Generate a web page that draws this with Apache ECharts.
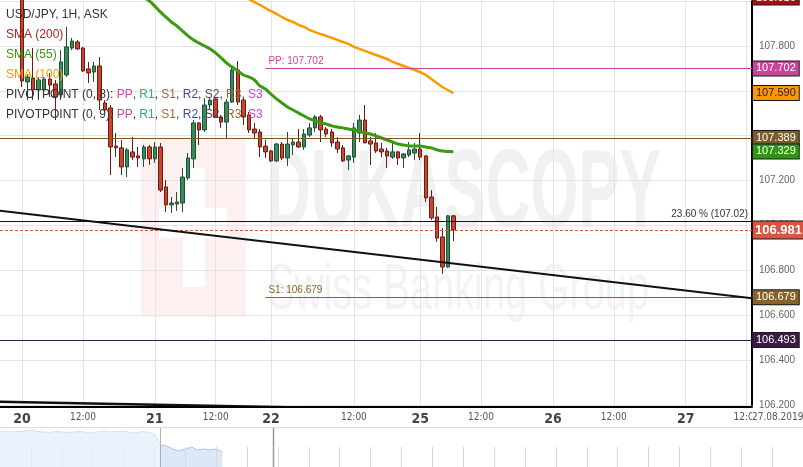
<!DOCTYPE html>
<html><head><meta charset="utf-8">
<script src="https://cdn.jsdelivr.net/npm/echarts@6/dist/echarts.min.js"></script>
<style>html,body{margin:0;padding:0;background:#fff}#c{width:803px;height:467px}</style>
</head><body><div id="c"></div>
<script>
// ---------- DATA ----------
const SLOT_COUNT = 137;          // hourly slots on the category axis
const FIRST_CANDLE_SLOT = 4;     // slot of first visible candle
const opens = [108.050,107.640,107.657,107.604,107.604,107.653,107.631,107.582,107.671,107.791,
  107.818,107.791,107.698,107.684,107.711,107.546,107.524,107.354,107.346,107.261,
  107.328,107.310,107.297,107.350,107.297,107.350,107.172,107.092,107.096,107.100,
  107.212,107.297,107.457,107.426,107.537,107.564,107.484,107.461,107.550,107.693,
  107.559,107.493,107.430,107.417,107.354,107.332,107.288,107.363,107.301,107.359,
  107.372,107.350,107.403,107.435,107.484,107.430,107.417,107.372,107.346,107.292,
  107.305,107.412,107.470,107.377,107.368,107.341,107.332,107.305,107.328,107.301,
  107.314,107.323,107.341,107.310,107.127,107.038,106.949,106.815,107.043];
const closes = [107.644,107.662,107.604,107.649,107.653,107.626,107.573,107.729,107.796,107.822,
  107.787,107.689,107.680,107.711,107.559,107.515,107.350,107.346,107.261,107.337,
  107.305,107.301,107.350,107.297,107.350,107.158,107.092,107.100,107.105,107.216,
  107.301,107.457,107.426,107.537,107.559,107.484,107.461,107.550,107.693,107.550,
  107.484,107.426,107.412,107.350,107.328,107.288,107.363,107.301,107.363,107.372,
  107.350,107.408,107.435,107.484,107.426,107.408,107.368,107.341,107.288,107.310,
  107.435,107.470,107.368,107.363,107.332,107.328,107.310,107.328,107.301,107.319,
  107.337,107.341,107.305,107.123,107.034,106.944,106.815,107.043,106.981];
const highs = [108.072,107.671,107.791,107.662,107.662,107.680,107.649,107.782,107.885,107.836,
  107.827,107.796,107.729,107.729,107.751,107.559,107.537,107.412,107.381,107.346,
  107.395,107.350,107.359,107.359,107.372,107.368,107.203,107.127,107.149,107.256,
  107.323,107.470,107.461,107.568,107.573,107.573,107.493,107.564,107.706,107.733,
  107.568,107.506,107.457,107.430,107.381,107.337,107.368,107.372,107.417,107.390,
  107.430,107.430,107.457,107.493,107.493,107.439,107.430,107.395,107.359,107.314,
  107.457,107.493,107.537,107.395,107.412,107.368,107.346,107.368,107.332,107.323,
  107.372,107.368,107.412,107.314,107.158,107.083,106.989,107.047,107.047];
const lows = [107.617,107.559,107.559,107.559,107.595,107.573,107.470,107.559,107.662,107.782,
  107.782,107.684,107.635,107.640,107.515,107.506,107.225,107.305,107.225,107.216,
  107.292,107.261,107.261,107.270,107.279,107.149,107.060,107.056,107.065,107.060,
  107.203,107.256,107.359,107.417,107.515,107.479,107.435,107.390,107.546,107.537,
  107.448,107.412,107.390,107.305,107.301,107.283,107.283,107.292,107.265,107.314,
  107.346,107.337,107.395,107.417,107.372,107.395,107.350,107.323,107.283,107.247,
  107.279,107.372,107.368,107.270,107.323,107.305,107.256,107.297,107.270,107.256,
  107.305,107.292,107.292,107.105,107.025,106.927,106.784,106.811,106.931];
const sma55Start = 21;
const sma55 = [108.041,108.018,108.001,107.978,107.952,107.929,107.907,107.889,107.867,107.845,
  107.827,107.813,107.800,107.787,107.769,107.747,107.724,107.706,107.689,107.671,
  107.662,107.649,107.622,107.608,107.586,107.564,107.546,107.528,107.515,107.501,
  107.488,107.475,107.466,107.457,107.452,107.444,107.439,107.435,107.430,107.426,
  107.421,107.412,107.408,107.399,107.390,107.381,107.372,107.363,107.359,107.354,
  107.354,107.354,107.350,107.346,107.337,107.332,107.330,107.329];
const sma100Start = 41;
const sma100 = [108.009,107.996,107.983,107.969,107.956,107.943,107.929,107.916,107.907,107.894,
  107.885,107.871,107.862,107.853,107.845,107.836,107.827,107.818,107.809,107.796,
  107.787,107.778,107.769,107.760,107.751,107.742,107.729,107.720,107.711,107.702,
  107.693,107.684,107.671,107.653,107.635,107.617,107.604,107.590];
const xTickSlots  = [4, 15, 28, 39, 49, 64, 76, 87, 100, 111, 124, 135];
const xTickLabels = ['20','12:00','21','12:00','22','12:00','25','12:00','26','12:00','27','12:00'];
const pivotStartSlot = 48;
const pivotPP = 107.702;
const pivotS1 = 106.679;
const level389 = 107.389;
const fibLevel = 107.02;
const fibText = '23.60 % (107.02)';
const currentPrice = 106.981;
const level493 = 106.493;
const trendA = [107.066, 106.676];
const trendB = [106.214, 106.151];
const sma200Tag = 108.016;
const tagPrices = [107.702, 107.590, 107.389, 107.329, 106.981, 106.679, 106.493];
const navValues = [35,36,35,35.5,36,37,35.5,35,34.5,35.5,35,34.5,35,35.5,34.5,34,35.5,36,35,35.5,
  36,34.5,34,35.5,34.5,33,22,21,18,16,18,20,17,18,17,18,15];
const navTickStep = 5;
const navTickHeight = 20;

// ---------- STYLES ----------
const tagStyles = [
  {bg:'#c8449a', fg:'#fff'}, {bg:'#ff9800', fg:'#222'},
  {bg:'#7b5b2b', fg:'#fff'}, {bg:'#2f960e', fg:'#fff'}, {bg:'#d9553f', fg:'#fff', big:true},
  {bg:'#86622a', fg:'#fff'}, {bg:'#3b1a44', fg:'#fff'}
];
const FONT = "'Liberation Sans', Arial, sans-serif";
const NARROW = "'Liberation Sans Narrow', 'DejaVu Sans Condensed', 'Liberation Sans', sans-serif";

// ---------- BUILD ----------
const xCats = Array.from({length: SLOT_COUNT}, (_, i) => String(i));
const candleData = xCats.map((_, s) => {
  const k = s - FIRST_CANDLE_SLOT;
  return (k >= 0 && k < opens.length) ? [opens[k], closes[k], lows[k], highs[k]] : '-';
});
function align(start, vals) {
  return xCats.map((_, s) => {
    const j = s - FIRST_CANDLE_SLOT - start;
    return (j >= 0 && j < vals.length) ? vals[j] : '-';
  });
}
const trendBData = xCats.map((_, s) => s === 0 ? trendB[0] : (s === SLOT_COUNT - 1 ? trendB[1] : '-'));
const tickMap = {};
xTickSlots.forEach((s, i) => tickMap[s] = xTickLabels[i]);
const isTick = (idx) => tickMap[idx] !== undefined;

function tagLabel(text, st) {
  return {
    show: true, position: 'end', distance: 1,
    formatter: text,
    color: st.fg, backgroundColor: st.bg,
    borderColor: '#1a1a1a', borderWidth: 1,
    fontFamily: FONT,
    fontSize: st.big ? 13 : 11, fontWeight: st.big ? 'bold' : 'normal',
    lineHeight: st.big ? 15 : 12,
    padding: st.big ? [1, 2, 1, 2] : [1, 3, 1, 3]
  };
}
const tagItems = tagPrices.map((p, i) => ({
  yAxis: p,
  lineStyle: {color: 'rgba(0,0,0,0)', width: 1},
  label: tagLabel(p.toFixed(3), tagStyles[i])
}));

const lastSlot = String(SLOT_COUNT - 1);
const levelItems = [
  {yAxis: level389, lineStyle: {color: '#7a5a28', width: 1, type: 'solid'}, label: {show: false}},
  {yAxis: fibLevel, lineStyle: {color: '#111', width: 1, type: 'solid'},
   label: {show: true, position: 'insideEndTop', formatter: fibText, color: '#333', fontSize: 10, fontFamily: FONT, distance: [4, 2]}},
  {yAxis: currentPrice, lineStyle: {color: '#d9553f', width: 1, type: [3, 2]}, label: {show: false}},
  {yAxis: level493, lineStyle: {color: '#3b1a44', width: 1, type: 'solid'}, label: {show: false}},
  [{coord: [String(pivotStartSlot), pivotPP], lineStyle: {color: '#c8449a', width: 1, type: 'solid'},
    label: {show: true, position: 'insideStartTop', formatter: 'PP: ' + pivotPP.toFixed(3), color: '#c8449a', fontSize: 10, fontFamily: FONT, distance: [3, 2]}},
   {coord: [lastSlot, pivotPP]}],
  [{coord: [String(pivotStartSlot), pivotS1], lineStyle: {color: '#86622a', width: 1, type: 'solid'},
    label: {show: true, position: 'insideStartTop', formatter: 'S1: ' + pivotS1.toFixed(3), color: '#86622a', fontSize: 10, fontFamily: FONT, distance: [3, 2]}},
   {coord: [lastSlot, pivotS1]}],
  [{coord: ['0', trendA[0]], lineStyle: {color: '#111', width: 2, type: 'solid'}, label: {show: false}},
   {coord: [lastSlot, trendA[1]]}]
];

// navigator tick marks (vertical light lines in the lower half)
const navTickItems = [];
for (let x = navTickStep; x < 130; x += navTickStep) {
  navTickItems.push([{coord: [x, 0]}, {coord: [x, navTickHeight]}]);
}

const legendLines = [
  {t: 'USD/JPY, 1H, ASK', c: '#333'},
  {t: 'SMA (200)', c: '#b22222'},
  {t: 'SMA (55)', c: '#3a9a10'},
  {t: 'SMA (100)', c: '#ff9800'},
  {t: 'PIVOTPOINT (0, 8): {pp|PP}, {r1|R1}, {s1|S1}, {r2|R2}, {s2|S2}, {r3|R3}, {s3|S3}', c: '#333'},
  {t: 'PIVOTPOINT (0, 9): {pp|PP}, {r1|R1}, {s1|S1}, {r2|R2}, {s2|S2}, {r3|R3}, {s3|S3}', c: '#333'}
];
const richPivot = {
  pp: {fill: '#cc47a6', font: '12px ' + FONT},
  r1: {fill: '#27ae7a', font: '12px ' + FONT},
  s1: {fill: '#8f6f3a', font: '12px ' + FONT},
  r2: {fill: '#3a4fa0', font: '12px ' + FONT},
  s2: {fill: '#5b3b63', font: '12px ' + FONT},
  r3: {fill: '#8b6a35', font: '12px ' + FONT},
  s3: {fill: '#d23fd0', font: '12px ' + FONT}
};

const graphics = [
  // watermark
  {id: 'wm1', type: 'rect', z: -5, shape: {x: 141, y: 138, width: 105, height: 179}, style: {fill: '#fcf0f0'}},
  {id: 'wm2', type: 'rect', z: -4, shape: {x: 183, y: 168, width: 22, height: 119}, style: {fill: '#ffffff'}},
  {id: 'wm3', type: 'rect', z: -4, shape: {x: 159, y: 208, width: 68, height: 30}, style: {fill: '#ffffff'}},
  {id: 'wm4', type: 'text', z: -4, x: 266, y: 196, scaleX: 0.552, style: {text: 'DUKASCOPY', fill: '#f1f1f1', font: 'bold 112px ' + FONT, textVerticalAlign: 'middle'}},
  {id: 'wm5', type: 'text', z: -4, x: 268, y: 291, scaleX: 0.623, style: {text: 'Swiss Banking Group', fill: '#f3f3f3', font: '64px ' + FONT, textVerticalAlign: 'middle'}},
  // navigator decorations
  {id: 'nv1', type: 'line', z: 5, shape: {x1: 0, y1: 427.5, x2: 803, y2: 427.5}, style: {stroke: '#dddddd', lineWidth: 1}},
  {id: 'nv2', type: 'rect', z: 6, shape: {x: 0, y: 428, width: 160, height: 39}, style: {fill: 'rgba(255,255,255,0.45)'}},
  {id: 'nv3', type: 'line', z: 7, shape: {x1: 160.5, y1: 428, x2: 160.5, y2: 467}, style: {stroke: '#b0b0b0', lineWidth: 1}},
  {id: 'nv4', type: 'line', z: 7, shape: {x1: 273.5, y1: 428, x2: 273.5, y2: 467}, style: {stroke: '#9a9a9a', lineWidth: 1.5}},
  // date stamp on axis
  {id: 'dt', type: 'text', z: 20, x: 752, y: 417, style: {text: '27.08.2019', fill: '#555', font: '10px ' + NARROW, textVerticalAlign: 'middle', backgroundColor: '#fff'}}
];
legendLines.forEach((l, i) => {
  graphics.push({id: 'lg' + i, type: 'text', z: 100, x: 6, y: 15 + i * 20,
    style: {text: l.t, fill: l.c, font: '12px ' + FONT, textVerticalAlign: 'middle', rich: richPivot}});
});

const option = {
  animation: false,
  backgroundColor: '#ffffff',
  textStyle: {fontFamily: FONT},
  grid: [
    {left: -3, right: 51, top: 1.125, bottom: 62},
    {left: 0, right: 0, top: 428, bottom: 0}
  ],
  xAxis: [
    {type: 'category', gridIndex: 0, data: xCats, boundaryGap: false, offset: 2,
     axisLine: {show: true, lineStyle: {color: '#000', width: 2}},
     axisTick: {show: false},
     axisLabel: {interval: (i) => isTick(i), margin: 5,
       formatter: (v, i) => { const t = tickMap[+v]; if (t === undefined) return ''; return t.indexOf(':') >= 0 ? '{h|' + t + '}' : '{d|' + t + '}'; },
       rich: {d: {fontSize: 14, fontWeight: 'bold', color: '#444', fontFamily: NARROW},
              h: {fontSize: 10, color: '#555', fontFamily: NARROW}}},
     splitLine: {show: true, interval: (i) => isTick(i), lineStyle: {color: '#e4e4e4', width: 1}}},
    {type: 'value', gridIndex: 1, min: 0, max: 130, show: false}
  ],
  yAxis: [
    {type: 'value', gridIndex: 0, position: 'right', min: 106.2, max: 108.0, interval: 0.2,
     axisLine: {show: true, lineStyle: {color: '#000', width: 2}},
     axisTick: {show: false},
     axisLabel: {margin: 7, color: '#666', fontSize: 10, fontFamily: FONT,
       formatter: (v) => v > 107.9 ? '' : v.toFixed(3)},
     splitLine: {show: true, lineStyle: {color: '#e4e4e4', width: 1}}},
    {type: 'value', gridIndex: 1, min: 0, max: 39, show: false}
  ],
  graphic: graphics,
  series: [
    {type: 'candlestick', xAxisIndex: 0, yAxisIndex: 0, data: candleData, barWidth: 4,
     itemStyle: {color: '#3a8a5c', color0: '#c8452f', borderColor: '#1e5236', borderColor0: '#6a1d12', borderWidth: 1}},
    {type: 'line', name: 'SMA (55)', xAxisIndex: 0, yAxisIndex: 0, data: align(sma55Start, sma55),
     showSymbol: false, smooth: 0.2, lineStyle: {color: '#3a9a10', width: 3}, z: 3},
    {type: 'line', name: 'SMA (100)', xAxisIndex: 0, yAxisIndex: 0, data: align(sma100Start, sma100),
     showSymbol: false, smooth: 0.2, lineStyle: {color: '#ff9800', width: 2.5}, z: 3},
    {type: 'line', name: 'trendB', xAxisIndex: 0, yAxisIndex: 0, data: trendBData, connectNulls: true,
     showSymbol: false, lineStyle: {color: '#111', width: 2.5}, z: 4},
    {type: 'line', name: 'levels', xAxisIndex: 0, yAxisIndex: 0, data: [], z: 4,
     markLine: {silent: true, symbol: ['none', 'none'], animation: false, data: levelItems}},
    {type: 'line', name: 'tags', xAxisIndex: 0, yAxisIndex: 0, data: [], clip: false, z: 10,
     markLine: {silent: true, symbol: ['none', 'none'], animation: false, data: tagItems}},
    {type: 'line', name: 'navigator', xAxisIndex: 1, yAxisIndex: 1,
     data: navValues.map((v, i) => [i, v]), showSymbol: false, z: 3,
     lineStyle: {color: '#a9c5ee', width: 1}, areaStyle: {color: '#dce7f7', opacity: 1},
     markLine: {silent: true, symbol: ['none', 'none'], animation: false, label: {show: false},
       lineStyle: {color: '#d8d8d8', width: 1, type: 'solid'}, data: navTickItems}}
  ]
};
const chart = echarts.init(document.getElementById('c'));
chart.setOption(option);
// SMA(200) value tag sits above the visible range: place it through the axis scale
const ySma200 = chart.convertToPixel({yAxisIndex: 0}, sma200Tag);
const st200 = {bg: '#a50f12', fg: '#fff'};
chart.setOption({graphic: [{id: 'tag200', type: 'text', z: 50, x: 753, y: ySma200,
  style: {text: sma200Tag.toFixed(3), fill: st200.fg, font: '11px ' + FONT, textVerticalAlign: 'middle',
    backgroundColor: st200.bg, borderColor: '#1a1a1a', borderWidth: 1, padding: [1, 3, 1, 3], lineHeight: 12}}]});
</script></body></html>
